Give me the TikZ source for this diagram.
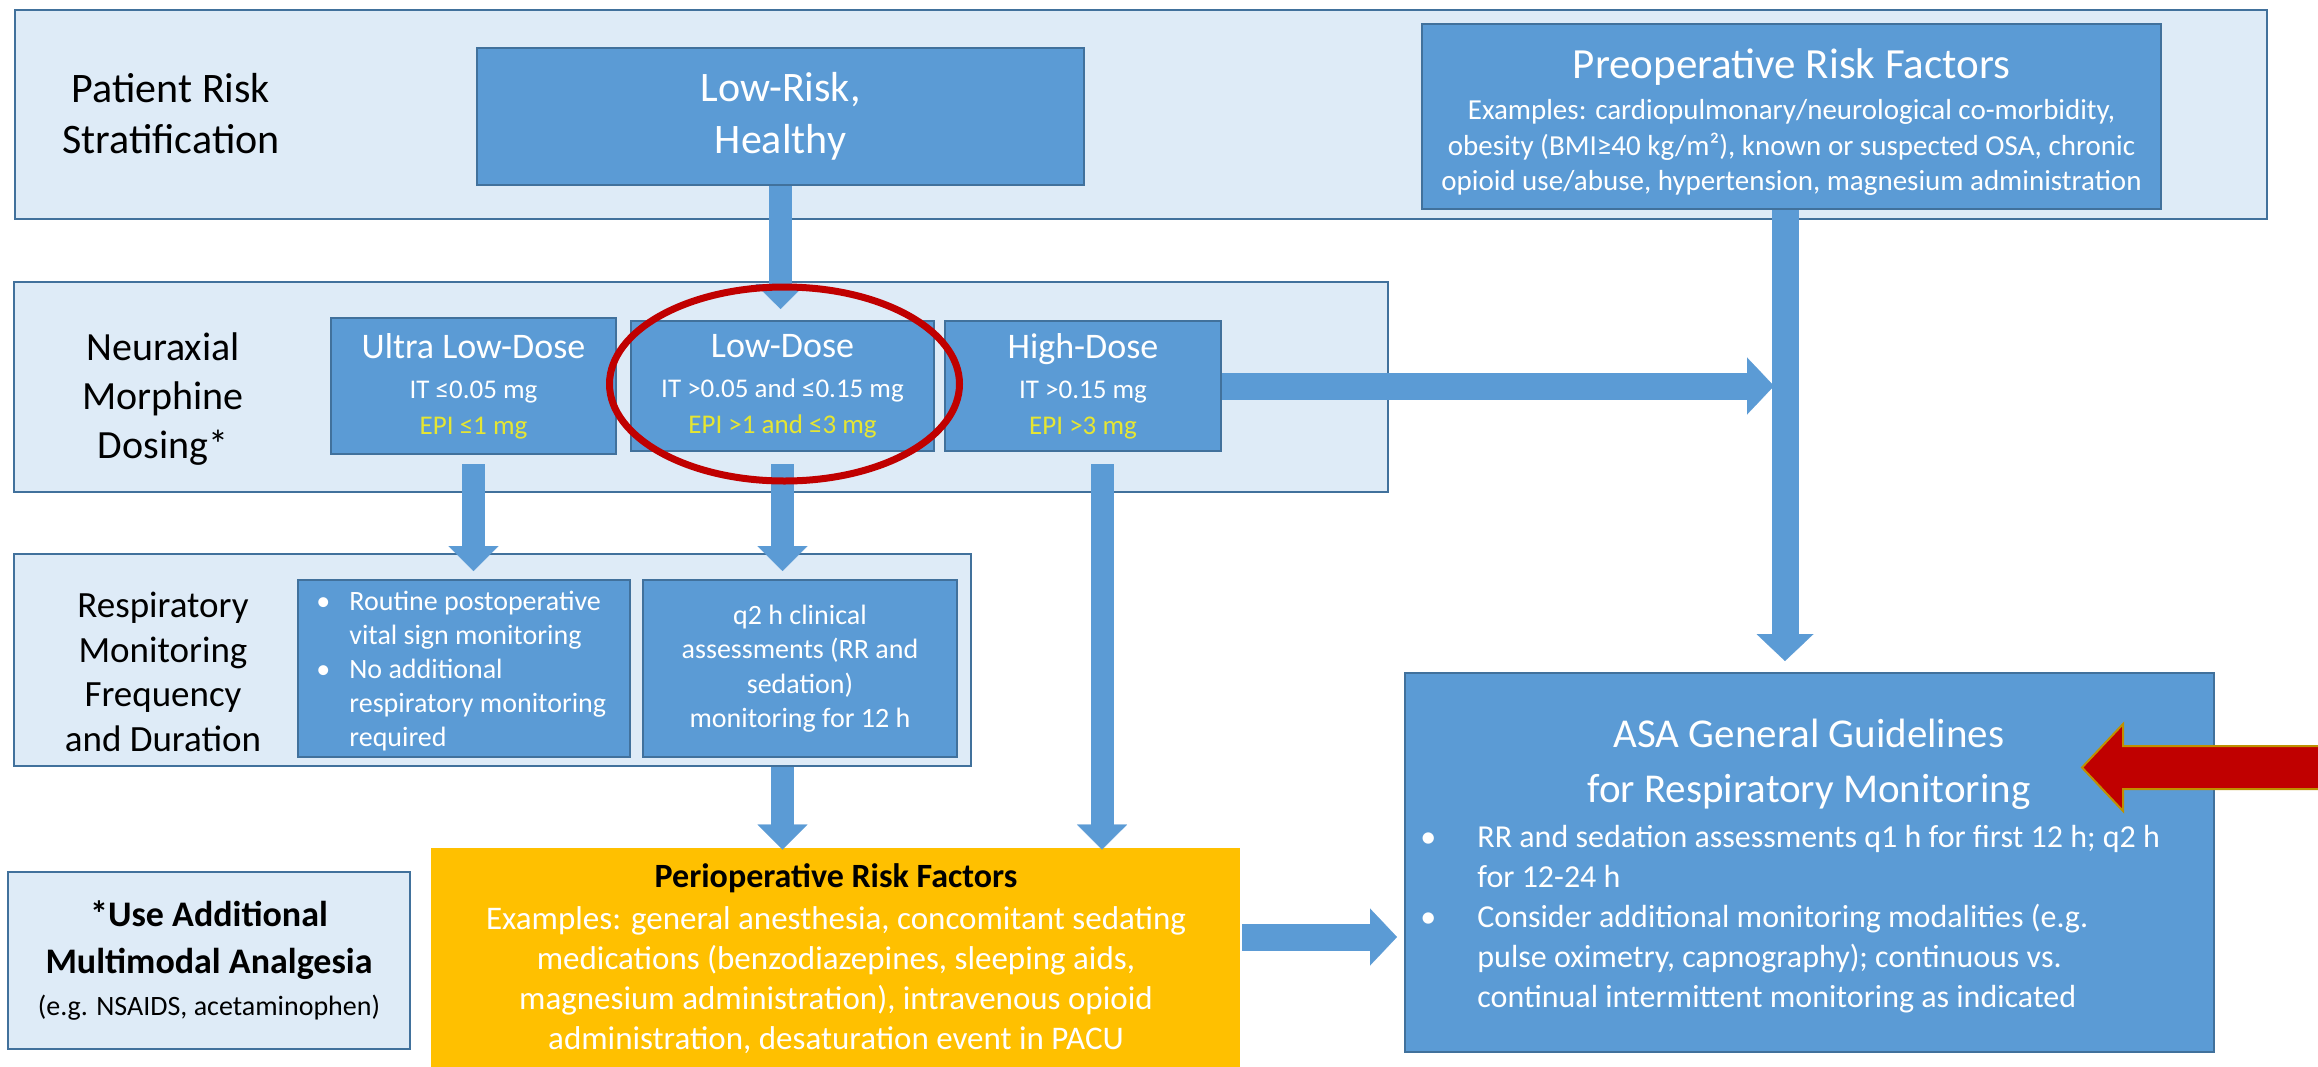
\documentclass[tikz,border=0pt]{standalone}
\usepackage{fontspec}
\setmainfont{Carlito}
\usetikzlibrary{arrows.meta,calc,shapes.geometric}
\definecolor{bandfill}{HTML}{DEEBF7}
\definecolor{banddraw}{HTML}{41719C}
\definecolor{boxfill}{HTML}{5B9BD5}
\definecolor{boxdraw}{HTML}{41719C}
\definecolor{epiyellow}{HTML}{E6E632}
\definecolor{goldfill}{HTML}{FFC000}
\definecolor{darkred}{HTML}{C00000}
\definecolor{redline}{HTML}{BF9000}
\begin{document}
\begin{tikzpicture}[x=0.5pt,y=-0.5pt,
  band/.style={draw=banddraw, fill=bandfill, line width=0.75pt, inner sep=0pt},
  bluebox/.style={draw=boxdraw, fill=boxfill, line width=1pt, inner sep=0pt, text=white, align=center},
  lbl/.style={align=center, inner sep=0pt, text=black},
  flow/.style={draw=boxfill, line width=11.5pt, -{Triangle[width=25pt,length=12.5pt,line width=0.1pt]}},
  flowbig/.style={draw=boxfill, line width=13.5pt, -{Triangle[width=28.5pt,length=13.5pt,line width=0.1pt]}},
]
\fill[white] (0,0) rectangle (2318,1066);
\useasboundingbox (0,0) rectangle (2318,1066);

% bands
\node[band, minimum width=1126pt, minimum height=104.5pt] (band1) at (1141,114.5) {};
\node[band, minimum width=687pt, minimum height=105pt] (band2) at (701,387) {};
\node[band, minimum width=478.5pt, minimum height=106pt] (band3) at (492.5,660) {};

% row labels
\node[lbl, font=\fontsize{21}{25.5}\selectfont] (lab1) at (171,114) {Patient Risk\\Stratification};
\node[lbl, font=\fontsize{20}{24.5}\selectfont] (lab2) at (163,399) {Neuraxial\\Morphine\\Dosing*};
\node[lbl, font=\fontsize{18.5}{22.25}\selectfont] (lab3) at (163,672) {Respiratory\\Monitoring\\Frequency\\and Duration};

% top row
\node[bluebox, minimum width=303.5pt, minimum height=68.5pt, font=\fontsize{21}{26}\selectfont] (lowrisk) at (780.5,116.5) {Low-Risk,\\Healthy};
\node[bluebox, minimum width=369.5pt, minimum height=92.5pt] (preop) at (1791.5,116.5) {};
\node[lbl, text=white, font=\fontsize{14.5}{17.75}\selectfont] (preoptxt) at (1791.5,122)
  {{\fontsize{21.5}{23}\selectfont Preoperative Risk Factors}\\[3pt]
   Examples: cardiopulmonary/neurological co-morbidity,\\
   obesity (BMI≥40 kg/m²), known or suspected OSA, chronic\\
   opioid use/abuse, hypertension, magnesium administration};

% dosing row
\node[bluebox, minimum width=142.5pt, minimum height=68pt, font=\fontsize{13.5}{18}\selectfont] (ultra) at (473.5,386)
  {{\fontsize{18}{20}\selectfont Ultra Low-Dose}\\[2pt] IT ≤0.05 mg\\ \textcolor{epiyellow}{EPI ≤1 mg}};
\node[bluebox, minimum width=151.5pt, minimum height=65pt, font=\fontsize{13.5}{18}\selectfont] (lowdose) at (782.5,386)
  {{\fontsize{18}{20}\selectfont Low-Dose}\\[2pt] IT >0.05 and ≤0.15 mg\\ \textcolor{epiyellow}{EPI >1 and ≤3 mg}};
\node[bluebox, minimum width=138pt, minimum height=65pt, font=\fontsize{13.5}{18}\selectfont] (highdose) at (1083,386)
  {{\fontsize{18}{20}\selectfont High-Dose}\\[2pt] IT >0.15 mg\\ \textcolor{epiyellow}{EPI >3 mg}};

% monitoring row
\node[bluebox, minimum width=166pt, minimum height=88.5pt] (box1) at (464,668.5) {};
\node[anchor=north west, inner sep=0pt, align=left, text=white, font=\fontsize{14}{17}\selectfont] (box1txt) at (316,591)
  {\makebox[16.5pt][l]{•}Routine postoperative\\
   \hspace*{16.5pt}vital sign monitoring\\
   \makebox[16.5pt][l]{•}No additional\\
   \hspace*{16.5pt}respiratory monitoring\\
   \hspace*{16.5pt}required};
\node[bluebox, minimum width=157pt, minimum height=88.5pt, font=\fontsize{14}{17.25}\selectfont] (box2) at (800,668.5)
  {q2 h clinical\\assessments (RR and\\sedation)\\monitoring for 12 h};

% bottom row
\node[band, minimum width=201pt, minimum height=88.5pt, align=center, font=\fontsize{18}{23.5}\selectfont\bfseries] (mm) at (209,960.5)
  {*Use Additional\\Multimodal Analgesia\\[-2.5pt]{\fontsize{14}{17}\mdseries\selectfont (e.g. NSAIDS, acetaminophen)}};
\node[fill=goldfill, minimum width=404.5pt, minimum height=111pt, inner sep=0pt] (orange) at (835.5,959) {};
\node[lbl, font=\fontsize{17}{19}\selectfont\bfseries] (orhead) at (836,878) {Perioperative Risk Factors};
\node[lbl, text=white, font=\fontsize{16.5}{20}\selectfont] (ortxt) at (836,980)
  {Examples: general anesthesia, concomitant sedating\\
   medications (benzodiazepines, sleeping aids,\\
   magnesium administration), intravenous opioid\\
   administration, desaturation event in PACU};

\node[bluebox, minimum width=404.5pt, minimum height=189.5pt] (asa) at (1809.5,862.5) {};
\node[lbl, text=white, font=\fontsize{20.5}{27.5}\selectfont] (asatitle) at (1809,764) {ASA General Guidelines\\for Respiratory Monitoring};
\node[anchor=north west, inner sep=0pt, align=left, text=white, font=\fontsize{16}{20}\selectfont] (asatxt) at (1420,825)
  {\makebox[28.5pt][l]{•}RR and sedation assessments q1 h for first 12 h; q2 h\\
   \hspace*{28.5pt}for 12-24 h\\
   \makebox[28.5pt][l]{•}Consider additional monitoring modalities (e.g.\\
   \hspace*{28.5pt}pulse oximetry, capnography); continuous vs.\\
   \hspace*{28.5pt}continual intermittent monitoring as indicated};

% connectors
\draw[flow] (lowrisk.south) -- ($(lowrisk.south |- lowdose.north)+(0,-11)$);
\draw[flow] ($(ultra.south)+(0,9)$) -- ($(ultra.south |- box1.north)+(0,-8)$);
\draw[flow] ($(lowdose.south)+(0,12)$) -- ($(lowdose.south |- box2.north)+(0,-8)$);
\draw[flow] ($(highdose.south)+(19,12)$) -- ($(highdose.south |- orange.north)+(19,2)$);
\draw[flow] (lowdose.south |- band3.south) -- ($(lowdose.south |- orange.north)+(0,2)$);
\draw[flowbig] ($(preop.south)+(-6.5,0)$) -- ($(preop.south |- asa.north)+(-6.5,-11)$);
\draw[flowbig] (highdose.east) -- ($(highdose.east -| preop.south)+(-17.5,0)$);
\coordinate (oe) at ($(orange.east)+(2,-22)$);
\draw[flowbig] (oe) -- ($(asa.west |- oe)+(-7,0)$);

% highlight
\node[draw=darkred, line width=3.5pt, ellipse, inner sep=0pt, minimum width=175pt, minimum height=97pt] (hl) at (784.5,384) {};

% red pointer
\coordinate (redtip) at ($(asa.east)+(-133,-95)$);
\filldraw[fill=darkred, draw=redline, line width=1pt] (redtip) -- ++(41,-43.5) -- ++(0,22) -- ++(260,0) -- ++(0,43) -- ++(-260,0) -- ++(0,22) -- cycle;
\end{tikzpicture}
\end{document}
